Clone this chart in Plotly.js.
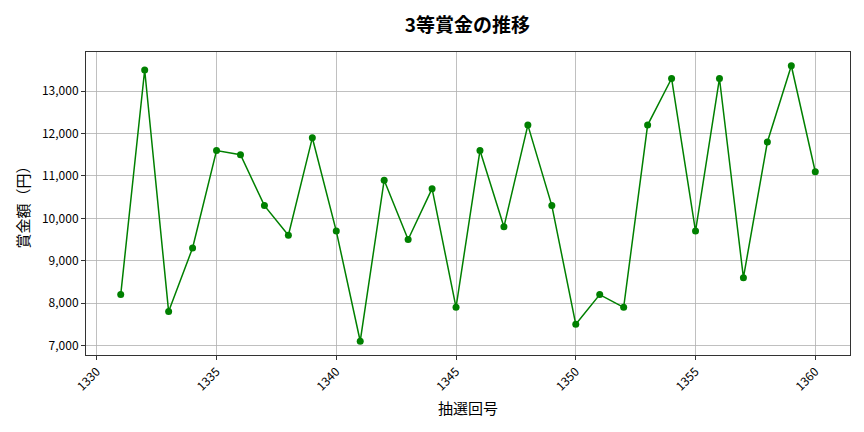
<!DOCTYPE html>
<html><head><meta charset="utf-8">
<script src="https://cdn.plot.ly/plotly-3.0.1.min.js"></script>
<style>html,body{margin:0;padding:0;background:#fff}</style>
</head><body><div id="chart" style="width:864px;height:432px"></div>
<script>
const draws = [1331,1332,1333,1334,1335,1336,1337,1338,1339,1340,1341,1342,1343,1344,1345,1346,1347,1348,1349,1350,1351,1352,1353,1354,1355,1356,1357,1358,1359,1360];
const prizes = [8200,13500,7800,9300,11600,11500,10300,9600,11900,9700,7100,10900,9500,10700,7900,11600,9800,12200,10300,7500,8200,7900,12200,13300,9700,13300,8600,11800,13600,11100];
const xTicks = [1330,1335,1340,1345,1350,1355,1360];
const yTicks = [7000,8000,9000,10000,11000,12000,13000];
const font = '"Noto Sans CJK JP", "Noto Sans", sans-serif';
Plotly.newPlot('chart', [{
  x: draws, y: prizes, type: 'scatter', mode: 'lines+markers',
  line: {color: 'green', width: 1.5},
  marker: {color: 'green', size: 7}
}], {
  width: 864, height: 432,
  margin: {l: 86, r: 14, t: 52, b: 77},
  paper_bgcolor: '#fff', plot_bgcolor: '#fff',
  font: {family: font, color: '#000', size: 12},
  title: {text: '<b>3等賞金の推移</b>', x: 0.541, xanchor: 'center', y: 0.942, yanchor: 'middle', font: {size: 19, family: font}},
  showlegend: false,
  xaxis: {
    range: [1329.55, 1361.45], tickvals: xTicks, ticktext: xTicks.map(String),
    tickangle: -45, ticks: 'outside', ticklen: 4, tickcolor: '#333',
    showgrid: true, gridcolor: '#b0b0b0', gridwidth: 0.8,
    showline: true, linecolor: '#333', linewidth: 1, mirror: true, zeroline: false,
    tickfont: {size: 12},
    title: {text: '抽選回号', font: {size: 15}, standoff: 10}
  },
  yaxis: {
    range: [6775, 13925], tickvals: yTicks, ticktext: yTicks.map(v => v.toLocaleString('en-US')),
    ticks: 'outside', ticklen: 4, tickcolor: '#333',
    showgrid: true, gridcolor: '#b0b0b0', gridwidth: 0.8,
    showline: true, linecolor: '#333', linewidth: 1, mirror: true, zeroline: false,
    tickfont: {size: 12},
    title: {text: '賞金額（円）', font: {size: 15}, standoff: 8}
  }
}, {displayModeBar: false, staticPlot: true});
</script></body></html>
